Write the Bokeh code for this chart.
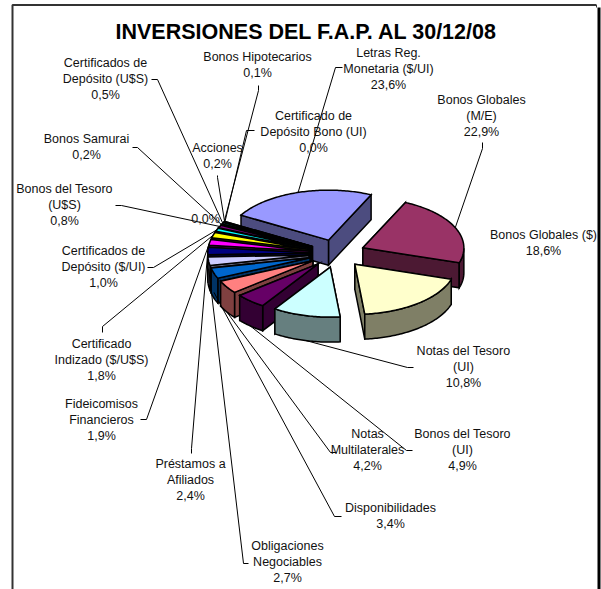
import math
from bokeh.plotting import figure
from bokeh.models import Range1d
from bokeh.core.properties import value
from bokeh.embed import file_html
from bokeh.resources import INLINE

title = "INVERSIONES DEL F.A.P. AL 30/12/08"
names = [["Letras Reg.", "Monetaria ($/UI)"], ["Bonos Globales", "(M/E)"], ["Bonos Globales ($)"],
         ["Notas del Tesoro", "(UI)"], ["Bonos del Tesoro", "(UI)"], ["Notas", "Multilaterales"],
         ["Disponibilidades"], ["Obligaciones", "Negociables"], ["Préstamos a", "Afiliados"],
         ["Fideicomisos", "Financieros"], ["Certificado", "Indizado ($/U$S)"],
         ["Certificados de", "Depósito ($/UI)"], ["Bonos del Tesoro", "(U$S)"], ["Bonos Samurai"],
         ["Certificados de", "Depósito (U$S)"], ["Bonos Hipotecarios"], ["Acciones"],
         ["Certificado de", "Depósito Bono (UI)"], []]
values = [23.6, 22.9, 18.6, 10.8, 4.9, 4.2, 3.4, 2.7, 2.4, 1.9, 1.8, 1.0, 0.8, 0.2, 0.5, 0.1, 0.2, 0.0, 0.0]
colors = ["#9999FF", "#993366", "#FFFFCC", "#CCFFFF", "#660066", "#FF8080", "#0066CC", "#CCCCFF",
          "#000080", "#FF00FF", "#FFFF00", "#00FFFF", "#800080", "#800000", "#008080", "#0000FF",
          "#00CCFF", "#CCFFFF", "#CCFFCC"]

# layout: label centre x and first-line y
label_pos = [(388, 52), (481, 99), (543, 234), (463, 350), (462, 433), (367, 433), (390, 507),
             (287, 545), (190, 463), (101, 403), (101, 343), (103, 250), (64, 188), (86, 138),
             (105, 62), (257, 56), (217, 147), (313, 115), (205, 218)]
# layout: leader start and elbow
leader_pos = [[(342, 67), (335, 67)], [(482, 142), (482, 148)], None, [(413, 367), (407, 367)],
              [(412, 450), (406, 450)], [(336, 452), (330, 452)], [(341, 516), (334, 516)],
              [(248, 563), (243, 563)], [(191, 453), (191, 448)], [(140, 419), (146, 419)],
              [(102, 332), (102, 326)], [(147, 267), (153, 267)], [(115, 205), (121, 205)],
              [(132, 147), (137, 147)], [(151, 79), (157, 79)], [(258, 85), (258, 90)],
              [(217, 175), (217, 177)], [(254, 130), (246, 130)], None]

CX, CY, RX, RY, DEPTH, EXPLODE, START = 336.5, 253, 101, 50, 25, 0.28, -60
FONT = "Liberation Sans"

p = figure(width=601, height=589, x_range=Range1d(0, 601), y_range=Range1d(589, 0),
           toolbar_location=None, output_backend="svg", min_border=0,
           outline_line_color=None, background_fill_color="white", border_fill_color="white")
p.axis.visible = False
p.grid.visible = False
p.styles = {"position": "absolute", "left": "0px", "top": "0px"}


def pt(t, r=1.0):
    a = math.radians(t)
    return RX * r * math.sin(a), -RY * r * math.cos(a)


def dark(c):
    return "#%02X%02X%02X" % tuple(int(c[i:i + 2], 16) // 2 for i in (1, 3, 5))


slices = []
cum = 0.0
total = sum(values)
for i, v in enumerate(values):
    t0 = START + cum / total * 360
    cum += v
    t1 = START + cum / total * 360
    slices.append((i, t0, t1, (t0 + t1) / 2))

xs, ys, fills = [], [], []
for i, t0, t1, mid in sorted(slices, key=lambda s: -math.cos(math.radians(s[3]))):
    if values[i] == 0:
        continue
    ox, oy = pt(mid, EXPLODE)
    ax, ay = CX + ox, CY + oy
    n = max(2, int(t1 - t0) + 2)
    arc = [t0 + (t1 - t0) * k / (n - 1) for k in range(n)]
    rim = [(ax + pt(t)[0], ay + pt(t)[1]) for t in arc]
    c = colors[i]
    walls = []
    for e in (rim[0], rim[-1]):
        walls.append([(ax, ay), e, (e[0], e[1] + DEPTH), (ax, ay + DEPTH)])
    walls.sort(key=lambda w: sum(q[1] for q in w))
    front = [q for q, t in zip(rim, arc) if math.cos(math.radians(t)) < 0]
    if len(front) > 1:
        walls.append(front + [(q[0], q[1] + DEPTH) for q in reversed(front)])
    for w in walls:
        xs.append([q[0] for q in w]); ys.append([q[1] for q in w]); fills.append(dark(c))
    top = [(ax, ay)] + rim
    xs.append([q[0] for q in top]); ys.append([q[1] for q in top]); fills.append(c)

p.patches(xs, ys, fill_color=fills, line_color="black", line_width=1.5, line_join="miter")

# leaders end on the rim of their slice
for i, t0, t1, mid in slices:
    if leader_pos[i] is None:
        continue
    px, py = pt(mid, 1 + EXPLODE)
    c = math.cos(math.radians(mid))
    drop = DEPTH * min(1, -c * 2.5) if c < 0 else 0
    lx = [q[0] for q in leader_pos[i]] + [CX + px]
    ly = [q[1] for q in leader_pos[i]] + [CY + py + drop]
    p.line(lx, ly, line_color="black", line_width=1)

# labels
tx, ty, tt = [], [], []
for i, v in enumerate(values):
    lines = names[i] + [("%.1f%%" % v).replace(".", ",")]
    for k, s in enumerate(lines):
        tx.append(label_pos[i][0]); ty.append(label_pos[i][1] + k * 16.2); tt.append(s)
p.text(tx, ty, text=tt, text_font=value(FONT), text_font_size="12.5px", text_align="center",
       text_baseline="middle", text_color="#111111")
p.text([306], [31], text=[title], text_font=value(FONT), text_font_size="21.5px", text_font_style="bold",
       text_align="center", text_baseline="middle", text_color="black")

# frame
p.line([12, 12, 596], [589, 4.5, 4.5], line_color="#333333", line_width=2)
p.line([598.5, 598.5], [7, 589], line_color="black", line_width=3)
p.line([596, 596], [4.5, 7], line_color="#333333", line_width=1)

open("out.html", "w").write(file_html(p, INLINE))
